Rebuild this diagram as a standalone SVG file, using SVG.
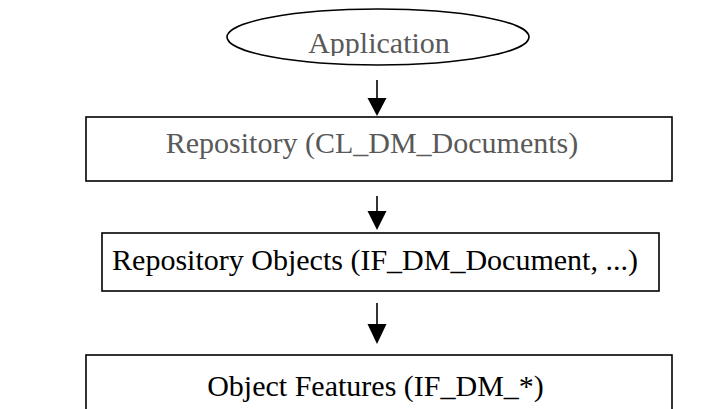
<svg xmlns="http://www.w3.org/2000/svg" width="720" height="409" viewBox="0 0 720 409">
  <style>
    .shape { fill: #ffffff; stroke: #000000; stroke-width: 1.6; }
    .label { font-family: "Liberation Serif", "Times New Roman", serif; font-size: 30px; text-anchor: middle; }
    .muted { fill: #595959; }
    .dark { fill: #000000; }
    .wire { stroke: #000000; stroke-width: 1.6; fill: none; }
    .tip { fill: #000000; }
  </style>
  <defs>
    <!-- the label inside the ellipse is cut just below its baseline -->
    <clipPath id="appClip">
      <rect x="0" y="0" width="720" height="56"/>
    </clipPath>
  </defs>

  <g id="connectors">
    <line class="wire" x1="377" y1="80" x2="377" y2="99"/>
    <path class="tip" d="M367.5,98 L386.5,98 L377,116 z"/>
    <line class="wire" x1="377" y1="196" x2="377" y2="212"/>
    <path class="tip" d="M367.5,211 L386.5,211 L377,230 z"/>
    <line class="wire" x1="377" y1="303" x2="377" y2="325"/>
    <path class="tip" d="M367.5,324 L386.5,324 L377,344 z"/>
  </g>

  <g id="application">
    <ellipse class="shape" cx="378" cy="37" rx="151" ry="28"/>
    <text class="label muted" x="379" y="53" clip-path="url(#appClip)">Application</text>
  </g>

  <g id="repository">
    <rect class="shape" x="86" y="117" width="586" height="64"/>
    <text class="label muted" x="372" y="153">Repository (CL_DM_Documents)</text>
  </g>

  <g id="repository-objects">
    <rect class="shape" x="102" y="233" width="557" height="58"/>
    <text class="label dark" x="375" y="270">Repository Objects (IF_DM_Document, ...)</text>
  </g>

  <g id="object-features">
    <rect class="shape" x="86" y="355" width="586" height="80"/>
    <text class="label dark" x="375.5" y="396">Object Features (IF_DM_*)</text>
  </g>
</svg>
